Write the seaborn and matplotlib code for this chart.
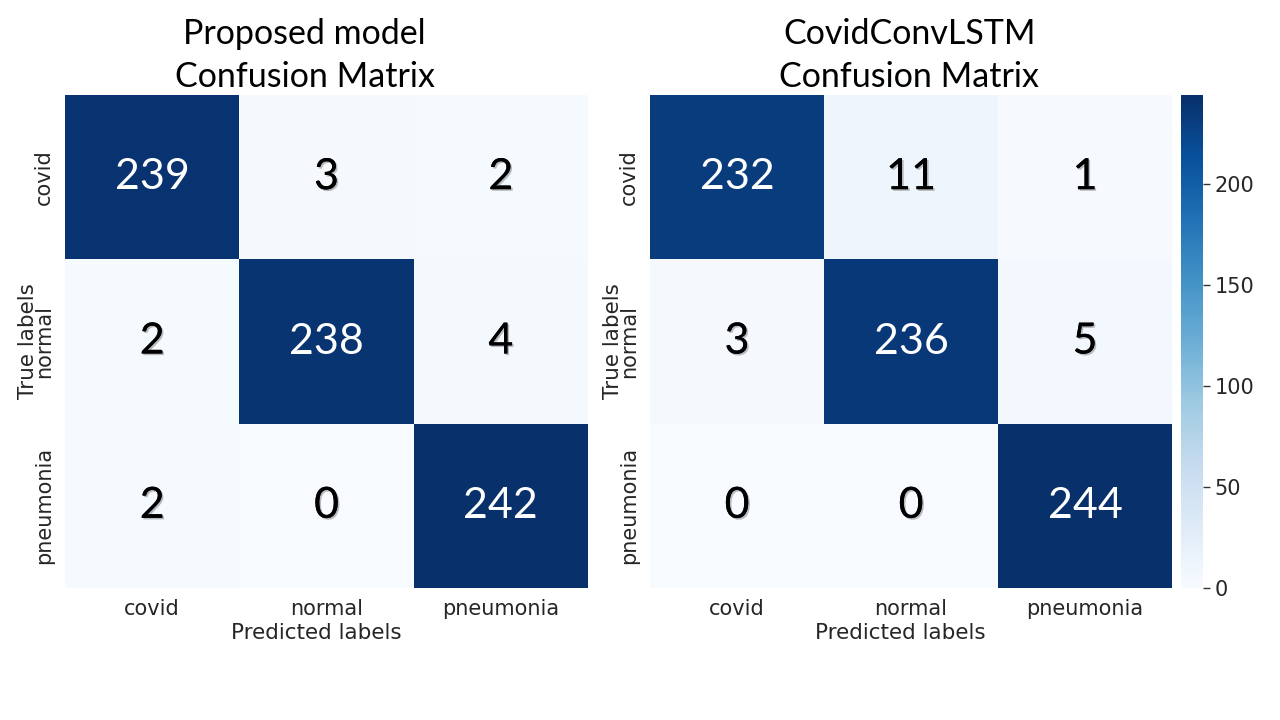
import numpy as np
import pandas as pd
import matplotlib
matplotlib.use("Agg")
import matplotlib.pyplot as plt
import matplotlib.patheffects as pe
import seaborn as sns

labels = ["covid", "normal", "pneumonia"]
proposed = [[239, 3, 2],
            [2, 238, 4],
            [2, 0, 242]]
convlstm = [[232, 11, 1],
            [3, 236, 5],
            [0, 0, 244]]
titles = ["Proposed model\nConfusion Matrix", "CovidConvLSTM\nConfusion Matrix"]

sns.set_theme(style="white")
plt.rcParams["font.family"] = ["DejaVu Sans"]

fig = plt.figure(figsize=(12.8, 7.2), dpi=100)
W, H = 1280, 720
ax1 = fig.add_axes([65 / W, (720 - 588) / H, 523 / W, 493 / H])
ax2 = fig.add_axes([650 / W, (720 - 588) / H, 522 / W, 493 / H])
cax = fig.add_axes([1181 / W, (720 - 588) / H, 22 / W, 493 / H])

shadow = [pe.withSimplePatchShadow(offset=(1.2, -1.2), alpha=0.25), pe.Normal()]

for ax, mat, title, use_cbar, title_x in [(ax1, proposed, titles[0], False, 0.458),
                                          (ax2, convlstm, titles[1], True, 0.497)]:
    df = pd.DataFrame(mat, index=labels, columns=labels)
    sns.heatmap(df, ax=ax, cmap="Blues", annot=True, fmt="d",
                cbar=use_cbar, cbar_ax=cax if use_cbar else None,
                annot_kws={"fontsize": 31, "family": "Lato"})
    for t in ax.texts:
        if int(t.get_text()) < 150:
            t.set_color("black")
            t.set_path_effects(shadow)
        else:
            t.set_color("white")
    ax.set_title(title, fontsize=24.5, family="Lato", pad=6, linespacing=1.4,
                 color="black", x=title_x)
    ax.set_xlabel("Predicted labels", fontsize=15.5, labelpad=3, color="#262626")
    ax.xaxis.label.set_x(0.48)
    ax.set_ylabel("True labels", fontsize=15.5, labelpad=-3, color="#262626")
    ax.tick_params(axis="x", length=0, pad=8, labelsize=15)
    ax.tick_params(axis="y", length=0, pad=8, labelsize=15)
    for lab in ax.get_yticklabels():
        lab.set_rotation(90)
        lab.set_va("center")

cax.tick_params(labelsize=15, length=5, width=1, color="#333333")

fig.savefig("out.png", dpi=100)
